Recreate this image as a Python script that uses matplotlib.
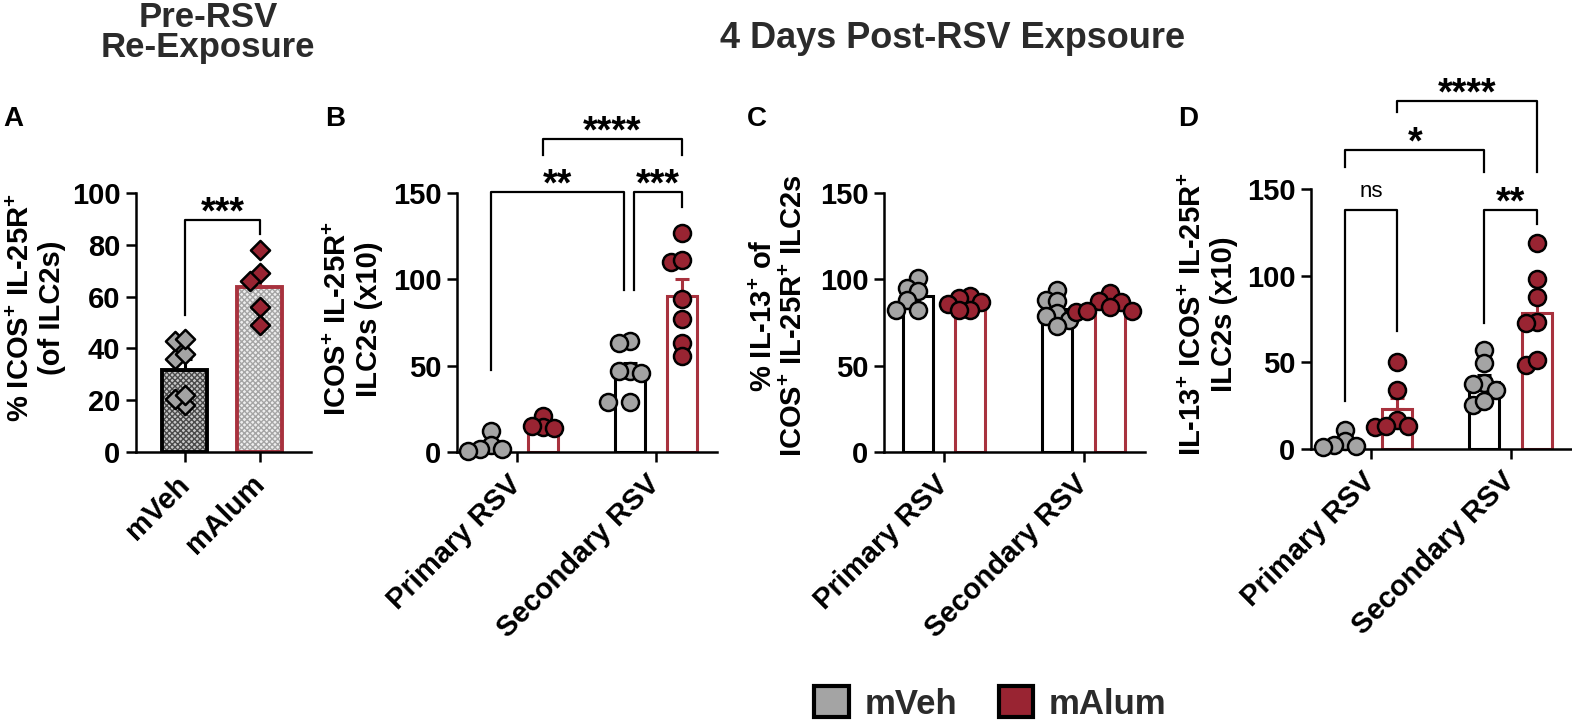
import numpy as np
import matplotlib
matplotlib.use('Agg')
import matplotlib.pyplot as plt
from matplotlib.patches import Patch

plt.rcParams['font.family'] = ['Liberation Sans', 'DejaVu Sans']
plt.rcParams['font.weight'] = 'bold'
plt.rcParams['axes.labelweight'] = 'bold'
plt.rcParams['mathtext.fontset'] = 'custom'
plt.rcParams['mathtext.rm'] = 'Liberation Sans:bold'
plt.rcParams['mathtext.bf'] = 'Liberation Sans:bold'
plt.rcParams['hatch.linewidth'] = 1.0

# data
groups_a = ['mVeh', 'mAlum']
groups = ['Primary RSV', 'Secondary RSV']

a_veh = [18, 20.5, 22, 36, 38, 43, 43.5]
a_alum = [78, 69, 66, 56, 49]

b_prim_veh = [12, 4, 2, 1.5, 0.5]
b_prim_alum = [21, 14.5, 15, 14]
b_sec_veh = [64, 63, 47, 46.7, 46, 29, 29]
b_sec_alum = [127, 110, 111, 88.6, 77, 63, 55.4]

c_prim_veh = [101, 95, 93, 88, 82, 82]
c_prim_alum = [90.5, 89, 86.7, 86, 82.4, 82]
c_sec_veh = [94, 88, 87.3, 80.5, 78.6, 76.6, 72.8]
c_sec_alum = [92, 87.3, 86.7, 84, 81.5, 81, 81.5]

d_prim_veh = [11, 4.5, 2.5, 1.5, 1]
d_prim_alum = [50, 34, 17, 13, 12.7, 13]
d_sec_veh = [57, 49.5, 38, 37.6, 34.2, 25.5, 27.5]
d_sec_alum = [119, 98, 87.6, 73, 72.6, 48.6, 51.5]

# significance brackets: x1, x2, leg1 bottom, leg2 bottom, top, label
brackets_a = [(0, 1, 53, 84.3, 89.7, '***')]
brackets_b = [(-0.187, 0.77, 47.7, 93.6, 150.4, '**'),
              (0.842, 1.187, 93.6, 142, 150.4, '***'),
              (0.187, 1.187, 172, 172, 181, '****')]
brackets_d = [(-0.187, 0.187, 27.5, 67.8, 137.9, 'ns'),
              (0.813, 1.187, 72.6, 129.8, 137.9, '**'),
              (-0.187, 0.813, 162.5, 160, 172.7, '*'),
              (0.187, 1.187, 194.6, 160, 200.9, '****')]

GRAY = '#a4a4a4'
RED = '#992432'
RED_EDGE = '#a8323e'
LW = 2.2


def swarm_x(ax, vals, xc, diam):
    pts = ax.transData.transform([(xc, v) for v in vals])
    placed = []
    xs = np.zeros(len(vals))
    step = diam * 0.62
    for i in np.argsort(vals)[::-1]:
        y = pts[i][1]
        for k in [0, -1, 1, -2, 2, -3, 3]:
            x = pts[i][0] + k * step
            if all(np.hypot(x - px, y - py) >= diam * 0.62 for px, py in placed):
                break
        placed.append((x, y))
        xs[i] = x
    back = ax.transData.inverted().transform(np.column_stack([xs, pts[:, 1]]))
    return back[:, 0]


def bar_with_points(ax, x, vals, edge, fill, width, marker='o', s=150, hatch=None, hatch_fc=None, hatch_col=None):
    vals = np.asarray(vals, float)
    m = vals.mean()
    sem = vals.std(ddof=1) / np.sqrt(len(vals))
    if hatch:
        ax.bar(x, m, width=width, facecolor=hatch_fc, edgecolor=hatch_col, hatch=hatch, lw=0, zorder=1)
        ax.bar(x, m, width=width, facecolor='none', edgecolor=edge, lw=LW + 0.6, zorder=1.5)
    else:
        ax.bar(x, m, width=width, facecolor='white', edgecolor=edge, lw=LW, zorder=1)
    ax.errorbar(x, m, yerr=[[0], [sem]], color=edge, lw=LW, capsize=4.7, capthick=LW, zorder=2)
    diam = 18 if marker == 'o' else 16
    px = swarm_x(ax, vals, x, diam)
    ax.scatter(px, vals, s=s, marker=marker, facecolor=fill, edgecolor='black', lw=1.8, zorder=3, clip_on=False)


def style(ax, ymax, yticks, xlim, xticks, xlabels):
    ax.set_xlim(*xlim)
    ax.set_ylim(0, ymax)
    ax.set_yticks(yticks)
    ax.spines[['top', 'right']].set_visible(False)
    for sp in ['left', 'bottom']:
        ax.spines[sp].set_linewidth(1.8)
    ax.tick_params(width=1.8, length=7.2, pad=4, labelsize=21)
    ax.set_xticks(xticks)
    ax.set_xticklabels(xlabels, rotation=45, ha='right', va='center', rotation_mode='anchor', fontsize=21)
    ax.tick_params(axis='x', pad=13)


def draw_brackets(ax, items):
    for x1, x2, b1, b2, top, lab in items:
        ax.plot([x1, x1, x2, x2], [b1, top, top, b2], color='black', lw=1.6, clip_on=False, zorder=4)
        if lab == 'ns':
            ax.annotate(lab, ((x1 + x2) / 2, top), xytext=(0, 9), textcoords='offset points',
                        ha='center', va='baseline', fontsize=16, fontweight='normal', annotation_clip=False)
        else:
            ax.annotate(lab, ((x1 + x2) / 2, top), xytext=(0, -2.5), textcoords='offset points',
                        ha='center', va='baseline', fontsize=27, annotation_clip=False)


fig = plt.figure(figsize=(15.72, 7.23), dpi=100)
W, H = 1572, 723
axA = fig.add_axes([136 / W, 1 - 452 / H, 175 / W, 259 / H])
axB = fig.add_axes([457 / W, 1 - 452 / H, 260 / W, 259 / H])
axC = fig.add_axes([884 / W, 1 - 452 / H, 261 / W, 259 / H])
axD = fig.add_axes([1311 / W, 1 - 449 / H, 261 / W, 260 / H])

xg = np.arange(len(groups))
off = 0.187
bw = 0.215

# Panel A
style(axA, 100, [0, 20, 40, 60, 80, 100], (-0.653, 1.68), [0, 1], groups_a)
bar_with_points(axA, 0, a_veh, 'black', GRAY, 0.6, marker='D', s=95, hatch='xxxxxx',
                hatch_fc='#c8c8c8', hatch_col='#4a4a4a')
bar_with_points(axA, 1, a_alum, RED_EDGE, RED, 0.6, marker='D', s=95, hatch='xxxxxx',
                hatch_fc='#eeeeee', hatch_col='#a5a5a5')
draw_brackets(axA, brackets_a)
axA.set_ylabel('% ICOS$^{\\mathbf{+}}$ IL-25R$^{\\mathbf{+}}$\n(of ILC2s)', fontsize=21, linespacing=1.12)
axA.yaxis.set_label_coords(-0.40, 0.556)

# Panels B-D
panels = [(axB, [b_prim_veh, b_sec_veh], [b_prim_alum, b_sec_alum]),
          (axC, [c_prim_veh, c_sec_veh], [c_prim_alum, c_sec_alum]),
          (axD, [d_prim_veh, d_sec_veh], [d_prim_alum, d_sec_alum])]
for ax, veh, alum in panels:
    style(ax, 150, [0, 50, 100, 150], (-0.43, 1.44), xg, groups)
    for i in range(len(groups)):
        bar_with_points(ax, xg[i] - off, veh[i], 'black', GRAY, bw)
        bar_with_points(ax, xg[i] + off, alum[i], RED_EDGE, RED, bw)

draw_brackets(axB, brackets_b)
draw_brackets(axD, brackets_d)

axB.set_ylabel('ICOS$^{\\mathbf{+}}$ IL-25R$^{\\mathbf{+}}$\nILC2s (x10)', fontsize=21, linespacing=1.12)
axB.yaxis.set_label_coords(-0.285, 0.513)
axC.set_ylabel('% IL-13$^{\\mathbf{+}}$ of\nICOS$^{\\mathbf{+}}$ IL-25R$^{\\mathbf{+}}$ ILC2s', fontsize=21, linespacing=1.12)
axC.yaxis.set_label_coords(-0.291, 0.525)
axD.set_ylabel('IL-13$^{\\mathbf{+}}$ ICOS$^{\\mathbf{+}}$ IL-25R$^{\\mathbf{+}}$\nILC2s (x10)', fontsize=21, linespacing=1.12)
axD.yaxis.set_label_coords(-0.28, 0.52)

# titles and panel letters
fig.text(208 / W, 1 - 27 / H, 'Pre-RSV', ha='center', va='baseline', fontsize=25, color='#2b2b2b')
fig.text(208 / W, 1 - 57 / H, 'Re-Exposure', ha='center', va='baseline', fontsize=25, color='#2b2b2b')
fig.text(953 / W, 1 - 48 / H, '4 Days Post-RSV Expsoure', ha='center', va='baseline', fontsize=26, color='#2b2b2b')
for lx, letter in [(3, 'A'), (325, 'B'), (747, 'C'), (1178, 'D')]:
    fig.text(lx / W, 1 - 126 / H, letter, ha='left', va='baseline', fontsize=20)

handles = [Patch(facecolor=GRAY, edgecolor='black', lw=3, label='mVeh'),
           Patch(facecolor=RED, edgecolor='black', lw=3, label='mAlum')]
leg = fig.legend(handles=handles, loc='center', bbox_to_anchor=(0.63, 0.027), ncol=2, frameon=False,
                 fontsize=25, handlelength=1.0, handleheight=1.0, handletextpad=0.45, columnspacing=1.2)
for t in leg.get_texts():
    t.set_color('#2b2b2b')

fig.savefig('out.png', dpi=100)
